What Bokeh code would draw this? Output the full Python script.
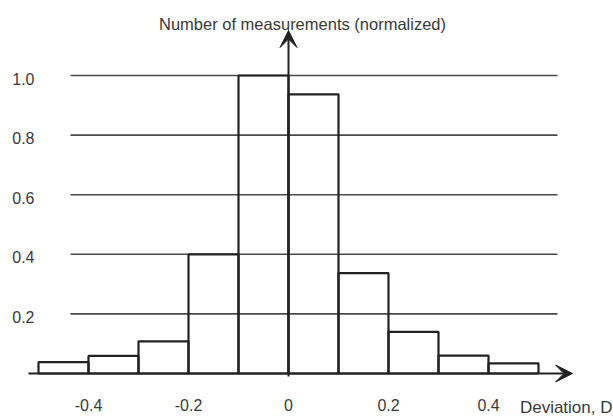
from bokeh.plotting import figure
from bokeh.models import Range1d, Arrow, VeeHead, ColumnDataSource
from bokeh.core.properties import value
from bokeh.embed import file_html
from bokeh.resources import INLINE

# ---- data ----
bin_left = [-0.5, -0.4, -0.3, -0.2, -0.1, 0.0, 0.1, 0.2, 0.3, 0.4]
bin_right = [-0.4, -0.3, -0.2, -0.1, 0.0, 0.1, 0.2, 0.3, 0.4, 0.5]
counts = [0.038, 0.059, 0.108, 0.40, 1.0, 0.937, 0.337, 0.14, 0.06, 0.034]

y_ticks = [0.2, 0.4, 0.6, 0.8, 1.0]
y_tick_labels = ["0.2", "0.4", "0.6", "0.8", "1.0"]
x_ticks = [-0.4, -0.2, 0.0, 0.2, 0.4]
x_tick_labels = ["-0.4", "-0.2", "0", "0.2", "0.4"]

title_text = "Number of measurements (normalized)"
x_label_text = "Deviation, D"

FONT = value("Liberation Sans")
TXT = "#3a3a3a"
INK = "#222222"

p = figure(width=613, height=418,
           x_range=Range1d(-0.576, 0.65), y_range=Range1d(-0.151, 1.2517),
           x_axis_location=None, y_axis_location=None,
           toolbar_location=None, output_backend="svg", min_border=0)
p.grid.visible = False
p.outline_line_color = None
p.background_fill_color = "white"

# horizontal reference lines
grid_x0 = -0.436
grid_x1 = 0.538
p.segment(x0=[grid_x0] * len(y_ticks), x1=[grid_x1] * len(y_ticks),
          y0=y_ticks, y1=y_ticks, line_color="#4a4a4a", line_width=1.6)

# histogram bars
src = ColumnDataSource(dict(left=bin_left, right=bin_right,
                            top=counts, bottom=[0] * len(counts)))
p.quad(left="left", right="right", top="top", bottom="bottom", source=src,
       fill_alpha=0, line_color=INK, line_width=2.2)

# axes with arrows
p.add_layout(Arrow(x_start=-0.52, y_start=0, x_end=0.568, y_end=0,
                   line_color=INK, line_width=2,
                   end=VeeHead(size=17, fill_color=INK, line_color=INK)))
p.add_layout(Arrow(x_start=0, y_start=-0.01, x_end=0, y_end=1.151,
                   line_color=INK, line_width=2,
                   end=VeeHead(size=17, fill_color=INK, line_color=INK)))

# y tick labels
p.text(x=[-0.508] * len(y_ticks), y=y_ticks, text=y_tick_labels,
       text_align="right", text_baseline="middle", y_offset=3,
       text_font=FONT, text_font_size="16px", text_color=TXT)

# x tick labels
p.text(x=x_ticks, y=[-0.107] * len(x_ticks), text=x_tick_labels,
       text_align="center", text_baseline="middle",
       text_font=FONT, text_font_size="16px", text_color=TXT)

# axis titles
p.text(x=[0.028], y=[1.174], text=[title_text],
       text_align="center", text_baseline="alphabetic",
       text_font=FONT, text_font_size="16.5px", text_color=TXT)
p.text(x=[0.648], y=[-0.115], text=[x_label_text],
       text_align="right", text_baseline="middle",
       text_font=FONT, text_font_size="17px", text_color=TXT)

open("out.html", "w").write(file_html(p, INLINE))
